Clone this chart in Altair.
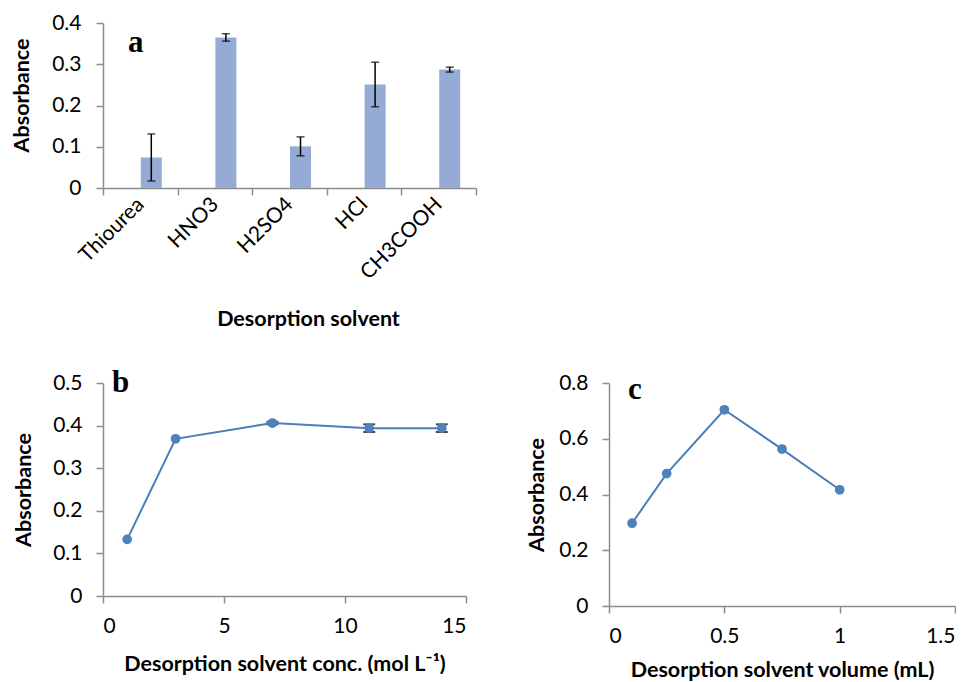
import altair as alt
import pandas as pd

# Panel a
solvents = ["Thiourea", "HNO3", "H2SO4", "HCl", "CH3COOH"]
abs_a = [0.074, 0.365, 0.101, 0.251, 0.287]
err_a = [0.057, 0.009, 0.023, 0.054, 0.006]

# Panel b
conc = [1, 3, 7, 11, 14]
abs_b = [0.133, 0.369, 0.406, 0.394, 0.394]
err_b = [0.0, 0.0, 0.003, 0.009, 0.009]

# Panel c
vol = [0.1, 0.25, 0.5, 0.75, 1.0]
abs_c = [0.297, 0.475, 0.704, 0.563, 0.417]

FONT = "Lato"
LBL = 21
TTL = 21.5
AXC = "#8c8c8c"
BAR = "#95aad4"
LINE = "#4a7ebb"
PT = "#4f81bd"

df_a = pd.DataFrame({"solvent": solvents, "abs": abs_a, "err": err_a})
df_a["lo"] = df_a["abs"] - df_a["err"]
df_a["hi"] = df_a["abs"] + df_a["err"]

df_b = pd.DataFrame({"conc": conc, "abs": abs_b, "err": err_b})
df_b["lo"] = df_b["abs"] - df_b["err"]
df_b["hi"] = df_b["abs"] + df_b["err"]

df_c = pd.DataFrame({"vol": vol, "abs": abs_c})


def letter(ch, x, y):
    return alt.Chart(pd.DataFrame({"t": [ch]})).mark_text(
        font="Liberation Serif", fontWeight="bold", fontSize=31,
        align="left", baseline="alphabetic", color="black"
    ).encode(text="t:N", x=alt.value(x), y=alt.value(y))


# ---- Panel a ----
xa = alt.X("solvent:N", sort=solvents,
           scale=alt.Scale(paddingInner=0, paddingOuter=0),
           axis=alt.Axis(title="Desorption solvent", tickBand="extent",
                         labelAngle=-45, labelAlign="right", labelBaseline="middle",
                         labelPadding=6, titlePadding=26, titleX=205))
ya = alt.Y("abs:Q", scale=alt.Scale(domain=[0, 0.4], nice=False),
           axis=alt.Axis(title="Absorbance", format="~g", grid=False,
                         values=[0, 0.1, 0.2, 0.3, 0.4], titleY=72,
                         labelPadding=15, titlePadding=18))
base_a = alt.Chart(df_a)
bars = base_a.mark_bar(size=21, xOffset=11, color=BAR).encode(x=xa, y=ya)
err_rule = base_a.mark_rule(xOffset=11, color="black", strokeWidth=1.5).encode(
    x=alt.X("solvent:N", sort=solvents), y="lo:Q", y2="hi:Q")
cap_lo = base_a.mark_tick(xOffset=11, color="black", size=8, thickness=1.5,
                          orient="horizontal").encode(
    x=alt.X("solvent:N", sort=solvents), y="lo:Q")
cap_hi = base_a.mark_tick(xOffset=11, color="black", size=8, thickness=1.5,
                          orient="horizontal").encode(
    x=alt.X("solvent:N", sort=solvents), y="hi:Q")
panel_a = alt.layer(bars, err_rule, cap_lo, cap_hi, letter("a", 25, 29)).properties(
    width=373, height=165)

# ---- Panel b ----
xb = alt.X("conc:Q", scale=alt.Scale(domain=[0, 15], nice=False),
           axis=alt.Axis(title="Desorption solvent conc. (mol L\u207b\u00b9)",
                         values=[0, 5, 10, 15], grid=False, titlePadding=17))
yb = alt.Y("abs:Q", scale=alt.Scale(domain=[0, 0.5], nice=False),
           axis=alt.Axis(title="Absorbance", format="~g", grid=False,
                         values=[0, 0.1, 0.2, 0.3, 0.4, 0.5],
                         labelPadding=14, titlePadding=17))
base_b = alt.Chart(df_b)
base_b_err = base_b.transform_filter("datum.err > 0")
err_b_rule = base_b_err.mark_rule(color="black", strokeWidth=1.5).encode(
    x="conc:Q", y="lo:Q", y2="hi:Q")
cap_b_lo = base_b_err.mark_tick(color="black", size=12, thickness=2,
                                orient="horizontal").encode(x="conc:Q", y="lo:Q")
cap_b_hi = base_b_err.mark_tick(color="black", size=12, thickness=2,
                                orient="horizontal").encode(x="conc:Q", y="hi:Q")
line_b = base_b.mark_line(color=LINE, strokeWidth=2).encode(x=xb, y=yb)
pts_b = base_b.mark_circle(color=PT, opacity=1, size=95).encode(x="conc:Q", y="abs:Q")
panel_b = alt.layer(err_b_rule, cap_b_lo, cap_b_hi, line_b, pts_b,
                    letter("b", 9, 9)).properties(width=363, height=213)

# ---- Panel c ----
xc = alt.X("vol:Q", scale=alt.Scale(domain=[0, 1.5], nice=False),
           axis=alt.Axis(title="Desorption solvent volume (mL)",
                         values=[0, 0.5, 1, 1.5], format="~g", grid=False,
                         titlePadding=13))
yc = alt.Y("abs:Q", scale=alt.Scale(domain=[0, 0.8], nice=False),
           axis=alt.Axis(title="Absorbance", format="~g", grid=False,
                         values=[0, 0.2, 0.4, 0.6, 0.8],
                         labelPadding=14, titlePadding=10))
base_c = alt.Chart(df_c)
line_c = base_c.mark_line(color=LINE, strokeWidth=2).encode(x=xc, y=yc)
pts_c = base_c.mark_circle(color=PT, opacity=1, size=95).encode(x="vol:Q", y="abs:Q")
panel_c = alt.layer(line_c, pts_c, letter("c", 19, 16)).properties(width=346, height=223)

chart = alt.vconcat(
    panel_a,
    alt.hconcat(panel_b, panel_c, spacing=59),
    spacing=36,
).properties(
    padding={"left": 3, "top": 4, "right": 0, "bottom": 0}
).configure_view(
    stroke=None
).configure_axis(
    domainColor=AXC, tickColor=AXC, domainWidth=1.5, tickWidth=1.5,
    tickSize=7, labelPadding=14, labelFont=FONT, labelFontSize=LBL,
    labelColor="black", titleFont=FONT, titleFontSize=TTL,
    titleFontWeight="bold", titleColor="black", titlePadding=18
).configure_axisX(
    labelPadding=12
)

chart.save("out.html", embed_options={"renderer": "svg", "actions": False})
